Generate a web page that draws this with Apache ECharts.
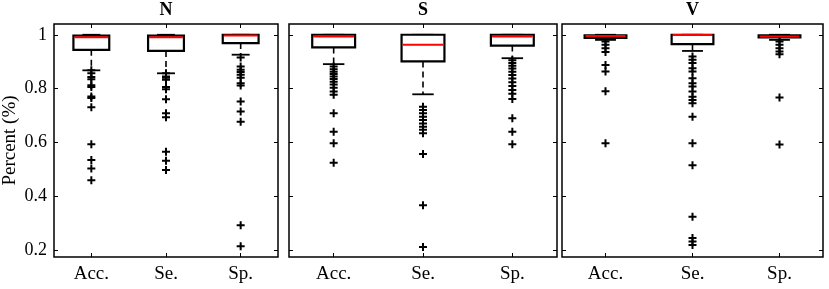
<!DOCTYPE html>
<html><head><meta charset="utf-8">
<script src="https://cdn.jsdelivr.net/npm/echarts@6/dist/echarts.min.js"></script>
<style>html,body{margin:0;padding:0;background:#fff}#c{width:829px;height:289px}</style>
</head><body><div id="c"></div>
<script>
const categories = ['Acc.', 'Se.', 'Sp.'];
const panelTitles = ['N', 'S', 'V'];
const yTicks = [0.2, 0.4, 0.6, 0.8, 1];
// each box: [lower whisker, Q1, median, Q3, upper whisker]
const boxN = [
  [0.868, 0.944, 0.991, 0.997, 1.0],
  [0.857, 0.940, 0.991, 0.997, 1.0],
  [0.926, 0.969, 0.997, 1.0, 1.0]
];
const boxS = [
  [0.891, 0.953, 0.994, 1.0, 1.0],
  [0.779, 0.901, 0.963, 1.0, 1.0],
  [0.913, 0.960, 0.994, 1.0, 1.0]
];
const boxV = [
  [0.981, 0.988, 0.995, 0.998, 1.0],
  [0.940, 0.965, 0.999, 1.0, 1.0],
  [0.981, 0.990, 0.994, 0.998, 1.0]
];
const outN = [
  [0.868, 0.857, 0.843, 0.835, 0.813, 0.806, 0.771, 0.765, 0.731, 0.594, 0.535, 0.504, 0.460],
  [0.857, 0.845, 0.840, 0.833, 0.806, 0.798, 0.761, 0.709, 0.694, 0.566, 0.532, 0.498],
  [0.916, 0.882, 0.870, 0.862, 0.852, 0.840, 0.820, 0.812, 0.752, 0.715, 0.677, 0.293, 0.215]
];
const outS = [
  [0.882, 0.872, 0.863, 0.854, 0.845, 0.836, 0.826, 0.815, 0.803, 0.789, 0.777, 0.709, 0.640, 0.597, 0.525],
  [0.733, 0.721, 0.709, 0.696, 0.684, 0.671, 0.659, 0.647, 0.634, 0.557, 0.367, 0.212],
  [0.905, 0.895, 0.885, 0.875, 0.863, 0.851, 0.838, 0.824, 0.810, 0.795, 0.781, 0.762, 0.690, 0.640, 0.594]
];
const outV = [
  [0.975, 0.963, 0.950, 0.936, 0.888, 0.864, 0.790, 0.597],
  [0.919, 0.907, 0.895, 0.876, 0.864, 0.839, 0.820, 0.808, 0.789, 0.770, 0.758, 0.746, 0.696, 0.597, 0.516, 0.324, 0.246, 0.233, 0.220],
  [0.975, 0.963, 0.950, 0.938, 0.928, 0.767, 0.593]
];

const boxes = [boxN, boxS, boxV];
const outs = [outN, outS, outV];
const FONT = 'Liberation Serif';
const grids = [
  {left: 54, top: 24, width: 224, height: 233},
  {left: 289, top: 24, width: 268, height: 233},
  {left: 562, top: 24, width: 261, height: 233}
];

function renderBox(params, api) {
  const x = api.value(0);
  const lo = api.coord([x, api.value(1)]);
  const q1 = api.coord([x, api.value(2)]);
  const md = api.coord([x, api.value(3)]);
  const q3 = api.coord([x, api.value(4)]);
  const hi = api.coord([x, api.value(5)]);
  const bw = api.size([1, 0])[0] * 0.48;
  const cw = bw * 0.5;
  const cx = lo[0];
  const ws = {stroke: '#000', lineWidth: 1.6, lineDash: [6, 4]};
  const cs = {stroke: '#000', lineWidth: 1.8};
  return {type: 'group', children: [
    {type: 'line', shape: {x1: cx, y1: q1[1], x2: cx, y2: lo[1]}, style: ws},
    {type: 'line', shape: {x1: cx, y1: q3[1], x2: cx, y2: hi[1]}, style: ws},
    {type: 'line', shape: {x1: cx - cw / 2, y1: lo[1], x2: cx + cw / 2, y2: lo[1]}, style: cs},
    {type: 'line', shape: {x1: cx - cw / 2, y1: hi[1], x2: cx + cw / 2, y2: hi[1]}, style: cs},
    {type: 'rect', shape: {x: cx - bw / 2, y: q3[1], width: bw, height: q1[1] - q3[1]}, style: {fill: '#fff', stroke: '#000', lineWidth: 2.2}},
    {type: 'line', shape: {x1: cx - bw / 2 + 1, y1: md[1], x2: cx + bw / 2 - 1, y2: md[1]}, style: {stroke: '#f00', lineWidth: 2}}
  ]};
}

const xAxis = [], yAxis = [], series = [];
grids.forEach((g, i) => {
  xAxis.push({
    gridIndex: i, type: 'category', data: categories, position: 'bottom',
    axisLine: {show: false},
    axisTick: {show: true, inside: true, alignWithLabel: true, length: 4, lineStyle: {color: '#000', width: 1}},
    axisLabel: {fontFamily: FONT, fontSize: 19, color: '#000', margin: 8},
    splitLine: {show: false}
  });
  xAxis.push({
    gridIndex: i, type: 'category', data: categories, position: 'top',
    name: panelTitles[i], nameLocation: 'middle', nameGap: 5,
    nameTextStyle: {fontFamily: FONT, fontSize: 18, fontWeight: 'bold', color: '#000'},
    axisLine: {show: false},
    axisTick: {show: true, inside: true, alignWithLabel: true, length: 4, lineStyle: {color: '#000', width: 1}},
    axisLabel: {show: false},
    splitLine: {show: false}
  });
  yAxis.push({
    gridIndex: i, type: 'value', min: 0.175, max: 1.04, position: 'left',
    name: i === 0 ? 'Percent (%)' : '', nameLocation: 'middle', nameGap: 34, nameRotate: 90,
    nameTextStyle: {fontFamily: FONT, fontSize: 19, color: '#000'},
    axisLine: {show: false},
    axisTick: {show: true, inside: true, length: 4, customValues: yTicks, lineStyle: {color: '#000', width: 1}},
    axisLabel: {show: i === 0, customValues: yTicks, fontFamily: FONT, fontSize: 18, color: '#000', margin: 7},
    splitLine: {show: false}
  });
  yAxis.push({
    gridIndex: i, type: 'value', min: 0.175, max: 1.04, position: 'right',
    axisLine: {show: false},
    axisTick: {show: true, inside: true, length: 4, customValues: yTicks, lineStyle: {color: '#000', width: 1}},
    axisLabel: {show: false},
    splitLine: {show: false}
  });
  series.push({
    type: 'custom', xAxisIndex: 2 * i, yAxisIndex: 2 * i,
    renderItem: renderBox, z: 2,
    data: boxes[i].map((b, k) => [k].concat(b))
  });
  const pts = [];
  outs[i].forEach((arr, k) => arr.forEach(v => pts.push([k, v])));
  series.push({
    type: 'scatter', xAxisIndex: 2 * i, yAxisIndex: 2 * i, z: 3,
    symbol: 'path://M3,0H5V3H8V5H5V8H3V5H0V3H3Z', symbolSize: 8,
    itemStyle: {color: '#000', opacity: 1},
    data: pts
  });
});

const chart = echarts.init(document.getElementById('c'), null, {renderer: 'canvas'});
chart.setOption({
  animation: false,
  backgroundColor: '#fff',
  grid: grids.map(g => Object.assign({show: true, borderColor: '#000', borderWidth: 1.5, backgroundColor: 'transparent', containLabel: false, outerBoundsMode: 'none'}, g)),
  xAxis, yAxis, series
});
</script></body></html>
